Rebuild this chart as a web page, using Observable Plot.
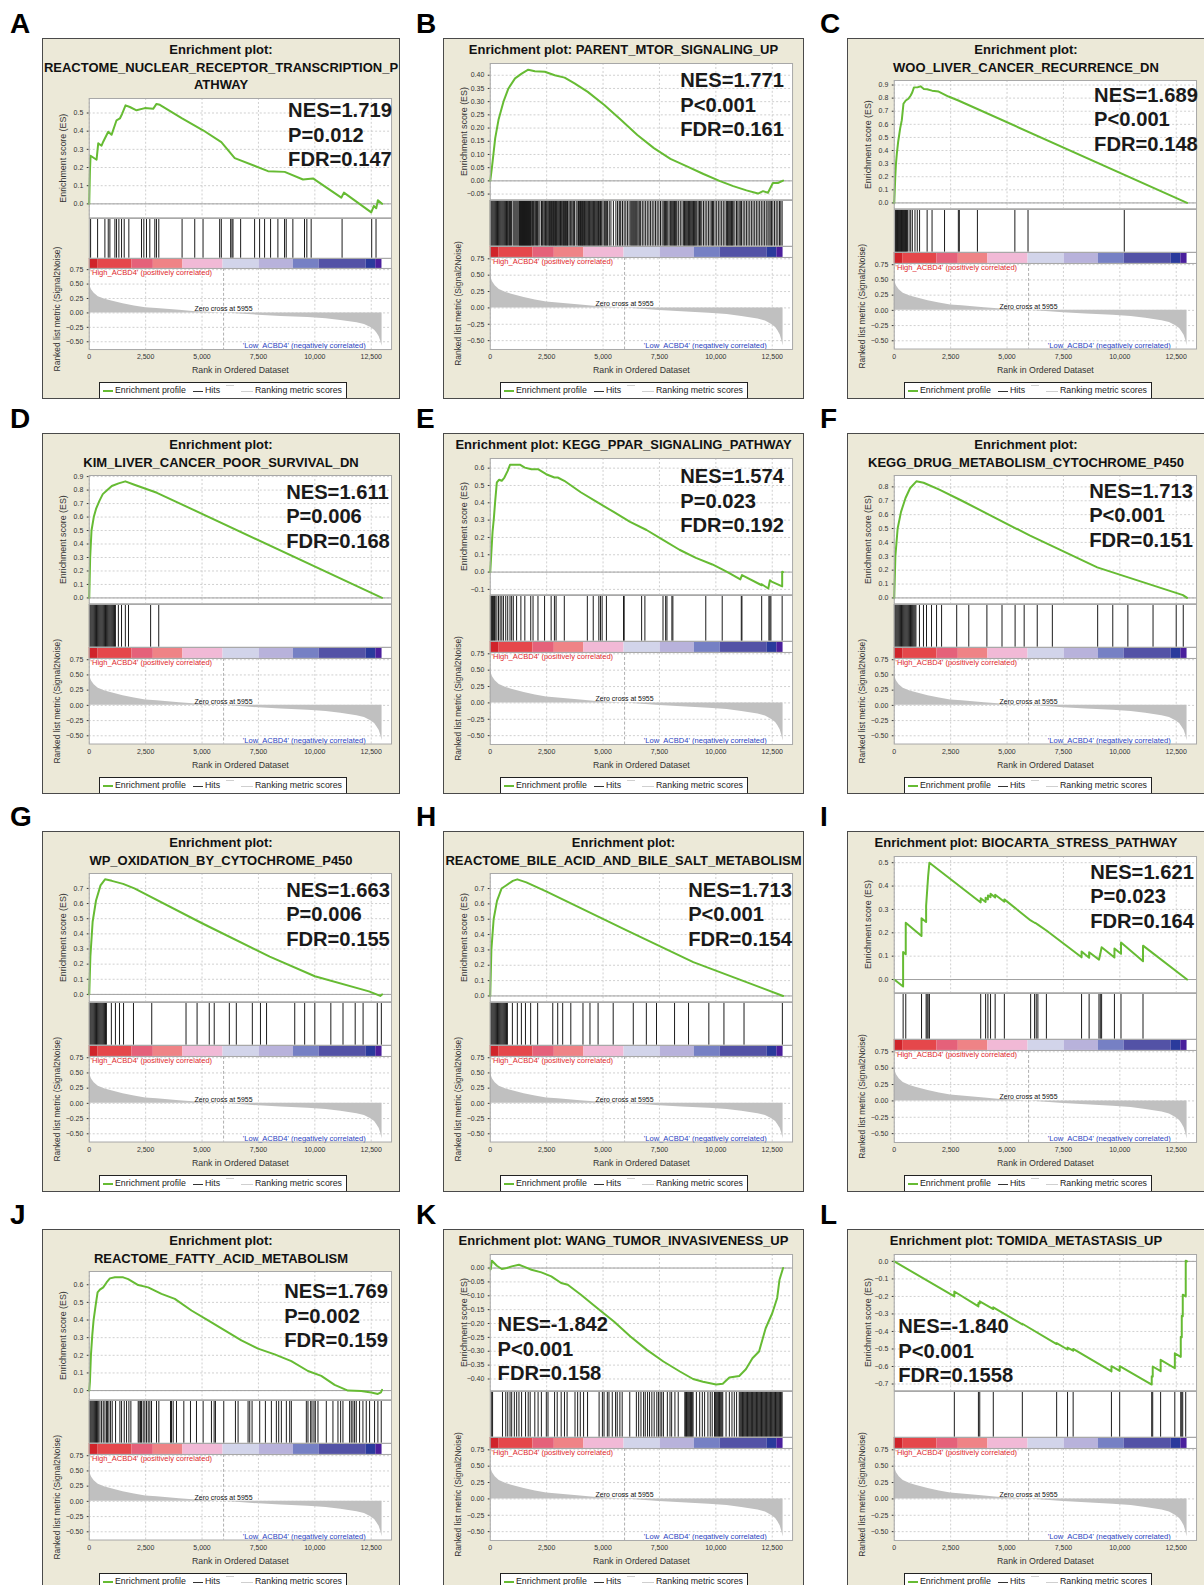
<!DOCTYPE html>
<html><head><meta charset="utf-8">
<script src="https://cdn.jsdelivr.net/npm/d3@7"></script>
<script src="https://cdn.jsdelivr.net/npm/@observablehq/plot@0.6"></script>
<style>
body{margin:0;background:#fff;}
#root{position:relative;width:1204px;height:1585px;overflow:hidden;font-family:"Liberation Sans",Arial,Helvetica,sans-serif;}
.panel{position:absolute;background:#ECE9D8;border:1px solid #4a4a4a;box-sizing:border-box;overflow:hidden;}
.letter{position:absolute;font-weight:bold;font-size:28px;line-height:28px;color:#000;}
.tline{position:absolute;left:0;right:0;text-align:center;font-weight:bold;font-size:13px;line-height:17.5px;color:#111;white-space:nowrap;}
.sub{position:absolute;left:0;}
.legend{position:absolute;width:248px;height:17px;background:#fff;border:1px solid #222;box-sizing:border-box;font-size:8.8px;color:#222;}
.legend i{position:absolute;display:block;}
.legend span{position:absolute;top:2px;line-height:11px;white-space:nowrap;}
</style></head><body><div id="root"></div>
<script>
// ---------------- data ----------------
const letters = ["A","B","C","D","E","F","G","H","I","J","K","L"];
const titleA = ["Enrichment plot:","REACTOME_NUCLEAR_RECEPTOR_TRANSCRIPTION_P","ATHWAY"];
const titleB = ["Enrichment plot: PARENT_MTOR_SIGNALING_UP"];
const titleC = ["Enrichment plot:","WOO_LIVER_CANCER_RECURRENCE_DN"];
const titleD = ["Enrichment plot:","KIM_LIVER_CANCER_POOR_SURVIVAL_DN"];
const titleE = ["Enrichment plot: KEGG_PPAR_SIGNALING_PATHWAY"];
const titleF = ["Enrichment plot:","KEGG_DRUG_METABOLISM_CYTOCHROME_P450"];
const titleG = ["Enrichment plot:","WP_OXIDATION_BY_CYTOCHROME_P450"];
const titleH = ["Enrichment plot:","REACTOME_BILE_ACID_AND_BILE_SALT_METABOLISM"];
const titleI = ["Enrichment plot: BIOCARTA_STRESS_PATHWAY"];
const titleJ = ["Enrichment plot:","REACTOME_FATTY_ACID_METABOLISM"];
const titleK = ["Enrichment plot: WANG_TUMOR_INVASIVENESS_UP"];
const titleL = ["Enrichment plot: TOMIDA_METASTASIS_UP"];

const statsA = ["NES=1.719","P=0.012","FDR=0.147"];
const statsB = ["NES=1.771","P<0.001","FDR=0.161"];
const statsC = ["NES=1.689","P<0.001","FDR=0.148"];
const statsD = ["NES=1.611","P=0.006","FDR=0.168"];
const statsE = ["NES=1.574","P=0.023","FDR=0.192"];
const statsF = ["NES=1.713","P<0.001","FDR=0.151"];
const statsG = ["NES=1.663","P=0.006","FDR=0.155"];
const statsH = ["NES=1.713","P<0.001","FDR=0.154"];
const statsI = ["NES=1.621","P=0.023","FDR=0.164"];
const statsJ = ["NES=1.769","P=0.002","FDR=0.159"];
const statsK = ["NES=-1.842","P<0.001","FDR=0.158"];
const statsL = ["NES=-1.840","P<0.001","FDR=0.1558"];

// running enrichment score [rank, ES]
const esA = [[0,0],[30,0.18],[59,0.265],[325,0.243],[398,0.333],[546,0.32],[620,0.342],[841,0.397],[989,0.38],[1210,0.46],[1358,0.47],[1461,0.496],[1609,0.542],[1800,0.533],[2096,0.515],[2465,0.527],[2834,0.523],[2981,0.55],[3129,0.545],[4115,0.47],[4676,0.43],[5044,0.405],[5855,0.34],[6449,0.252],[7925,0.18],[8663,0.176],[9475,0.134],[9917,0.14],[11172,0.034],[11290,0.062],[12500,-0.047],[12618,-0.011],[12721,-0.024],[12795,0.02],[12980,0]];
const esB = [[0,0],[73,0.049],[220,0.162],[366,0.231],[586,0.30],[806,0.35],[1099,0.388],[1392,0.406],[1685,0.421],[1978,0.415],[2418,0.413],[2858,0.40],[3297,0.391],[3737,0.369],[4323,0.337],[5056,0.287],[5788,0.231],[6521,0.174],[7254,0.124],[7987,0.083],[8719,0.055],[9452,0.026],[10185,-0.001],[10771,-0.02],[11357,-0.036],[11870,-0.048],[12090,-0.039],[12310,-0.045],[12529,-0.008],[12749,-0.008],[12980,0.001]];
const esC = [[0,0],[44,0.193],[73,0.293],[117,0.381],[175,0.469],[262,0.569],[335,0.632],[408,0.757],[510,0.782],[627,0.795],[728,0.82],[801,0.845],[874,0.882],[1020,0.882],[1166,0.89],[1311,0.87],[1457,0.868],[1675,0.857],[1967,0.85],[2404,0.812],[2841,0.782],[12980,0]];
const esD = [[0,0],[40,0.3],[100,0.5],[200,0.6],[300,0.66],[450,0.72],[600,0.77],[800,0.8],[1000,0.83],[1300,0.85],[1600,0.865],[2000,0.84],[3000,0.78],[12980,0]];
const esE = [[0,0],[44,0.1],[102,0.233],[160,0.31],[219,0.41],[292,0.518],[394,0.533],[510,0.527],[627,0.546],[773,0.584],[875,0.619],[1094,0.619],[1313,0.62],[1532,0.603],[1823,0.594],[2115,0.594],[2480,0.565],[2844,0.546],[2990,0.546],[3282,0.527],[4011,0.461],[4740,0.404],[5470,0.347],[6199,0.29],[6928,0.243],[7657,0.186],[8387,0.129],[9116,0.082],[9845,0.044],[10283,0.015],[10575,-0.004],[11085,-0.042],[11158,-0.017],[12033,-0.076],[12033,-0.07],[12325,-0.095],[12398,-0.047],[12471,-0.055],[12940,-0.083],[12940,0.002],[12980,0]];
const esF = [[0,0],[50,0.3],[150,0.5],[300,0.62],[500,0.72],[700,0.79],[980,0.84],[1300,0.83],[2000,0.78],[3000,0.7],[6000,0.45],[9000,0.22],[12800,0.02],[12980,0]];
const esG = [[0,0],[50,0.25],[150,0.48],[300,0.62],[500,0.72],[700,0.76],[1000,0.75],[1500,0.73],[2000,0.7],[5000,0.47],[8000,0.25],[10000,0.12],[12400,0.02],[12900,-0.01],[12980,0]];
const esH = [[0,0],[50,0.3],[150,0.5],[300,0.62],[500,0.7],[700,0.72],[1000,0.75],[1200,0.76],[1600,0.74],[2500,0.68],[6000,0.43],[9000,0.22],[12980,0]];
const esI = [[0,0],[393,-0.03],[393,0.118],[510,0.108],[510,0.243],[1209,0.186],[1209,0.262],[1413,0.246],[1413,0.315],[1457,0.378],[1501,0.44],[1559,0.5],[3832,0.33],[3832,0.348],[4050,0.332],[4050,0.35],[4152,0.343],[4152,0.36],[4269,0.352],[4269,0.367],[4473,0.351],[4473,0.363],[4881,0.333],[4881,0.343],[6046,0.253],[6221,0.243],[6294,0.24],[6367,0.235],[6745,0.21],[8304,0.095],[8304,0.12],[8639,0.093],[8639,0.117],[9076,0.085],[9135,0.11],[9193,0.138],[9761,0.094],[9761,0.133],[10052,0.11],[10052,0.158],[11028,0.078],[11028,0.145],[12980,0]];
const esJ = [[0,0],[30,0.05],[74,0.2],[133,0.313],[192,0.4],[280,0.48],[369,0.557],[472,0.572],[620,0.585],[767,0.613],[915,0.636],[1136,0.642],[1505,0.642],[1727,0.632],[2169,0.598],[2612,0.585],[3202,0.548],[3793,0.52],[4531,0.454],[5269,0.398],[6006,0.341],[6744,0.285],[7482,0.238],[8220,0.205],[8958,0.167],[9696,0.111],[10286,0.083],[10877,0.032],[11467,0.0],[12057,-0.002],[12500,-0.011],[12795,-0.019],[12930,-0.01],[12980,0.004]];
const esK = [[0,0],[20,-0.005],[73,0.0265],[292,0.0084],[512,-0.0036],[731,0],[950,0.006],[1272,0.012],[1462,0.006],[1827,-0.006],[2266,-0.0157],[2705,-0.03],[3143,-0.054],[3436,-0.06],[4020,-0.096],[4751,-0.145],[5482,-0.193],[6213,-0.247],[6944,-0.295],[7675,-0.337],[8406,-0.373],[8991,-0.40],[9430,-0.41],[10015,-0.42],[10307,-0.417],[10600,-0.395],[11038,-0.389],[11330,-0.365],[11623,-0.325],[11915,-0.301],[12208,-0.217],[12500,-0.163],[12719,-0.108],[12822,-0.042],[12980,0]];
const esL = [[0,0],[2663,-0.2],[2663,-0.172],[3731,-0.257],[3731,-0.237],[3790,-0.24],[3790,-0.228],[4390,-0.272],[4390,-0.262],[5678,-0.36],[5678,-0.356],[7199,-0.472],[7199,-0.467],[7682,-0.503],[7682,-0.492],[7931,-0.51],[7931,-0.5],[9628,-0.628],[9628,-0.598],[9994,-0.625],[9994,-0.598],[11414,-0.703],[11414,-0.655],[11458,-0.658],[11458,-0.6],[11809,-0.627],[11809,-0.562],[12438,-0.61],[12438,-0.525],[12701,-0.545],[12701,-0.43],[12745,-0.433],[12745,-0.31],[12789,-0.313],[12789,-0.19],[12921,-0.2],[12921,0.004],[12980,0]];

// gene-set hit ranks
const hitsA = [59,369,693,841,914,1136,1209,1313,1431,1549,1755,2316,2419,2537,2684,2906,2979,3083,4115,4676,5044,5782,5855,6268,6327,6372,6711,7330,7552,7773,8038,8363,8658,8732,9027,9543,9646,9838,11209,12522,12714];
const hitsB = [0,40,80,120,160,200,240,280,320,360,400,440,480,520,560,600,640,680,720,760,800,850,894,938,1011,1055,1099,1143,1187,1231,1275,1297,1319,1341,1363,1385,1407,1429,1451,1473,1495,1517,1539,1561,1583,1605,1627,1649,1671,1693,1715,1737,1759,1781,1803,1840,1876,1912,1949,2000,2052,2090,2125,2198,2271,2308,2345,2396,2447,2476,2506,2550,2594,2616,2638,2675,2711,2740,2770,2799,2828,2858,2887,2909,2931,2968,3004,3040,3077,3114,3151,3187,3224,3253,3282,3311,3341,3370,3400,3422,3444,3500,3561,3612,3664,3700,3737,3810,3883,3912,3942,3971,4000,4030,4059,4081,4103,4140,4176,4213,4250,4286,4323,4360,4396,4433,4470,4506,4543,4580,4616,4652,4689,4726,4763,4800,4836,4887,4938,4997,5056,5092,5129,5165,5202,5275,5349,5459,5569,5642,5715,5752,5788,5862,5935,6008,6081,6155,6228,6272,6316,6360,6404,6448,6492,6543,6594,6631,6668,6741,6814,6888,6961,7034,7107,7180,7254,7327,7400,7474,7547,7620,7693,7730,7766,7818,7869,7928,7986,8023,8059,8096,8133,8170,8206,8243,8279,8352,8426,8500,8573,8610,8646,8683,8719,8756,8792,8829,8866,8903,8939,8976,9012,9049,9085,9122,9159,9218,9276,9327,9378,9452,9525,9599,9672,9745,9818,9855,9892,9965,10038,10112,10185,10258,10331,10405,10478,10515,10551,10588,10624,10661,10697,10734,10771,10844,10917,10976,11034,11086,11137,11211,11284,11357,11430,11504,11577,11650,11723,11797,11870,11943,12016,12090,12163,12236,12309,12360,12412,12470,12529,12603,12676,12749,12822,12880,12939];
const hitsC = [44,70,95,120,145,170,195,220,245,270,295,320,345,370,395,420,445,470,495,520,545,583,656,728,801,918,1020,1122,1457,1675,2229,2841,2885,3686,5347,5930,10198];
const hitsD = [5,40,80,120,160,200,240,280,320,360,400,440,480,520,560,600,640,680,720,760,800,840,880,920,960,1000,1040,1080,1120,1160,1290,1430,1600,1740,2720,3080];
const hitsE = [5,44,73,102,146,190,219,292,365,438,511,583,686,773,875,948,1021,1167,1357,1532,1794,1896,2115,2407,2698,2844,2917,3282,4303,4565,4813,4886,4959,5149,5907,5937,6710,6855,7658,7775,7833,8052,8096,9554,10283,11129,11158,12033,12354,12398,12442,12940];
const hitsF = [5,40,80,120,160,200,240,280,320,360,400,440,480,520,560,600,640,680,720,760,800,840,880,920,960,1116,1295,1429,1652,1875,2098,2768,3304,4107,4777,5357,5759,6339,7009,9018,9688,10357,11473,12500,12813];
const hitsG = [5,40,80,120,160,200,240,280,320,360,400,440,480,520,560,600,640,680,720,760,980,1160,1340,1520,1960,2770,4290,4780,5320,5540,6210,6520,7230,7590,7860,9110,9550,10000,10710,11250,11790,12140,12770,12950];
const hitsH = [5,40,80,120,160,200,240,280,320,360,400,440,480,520,560,600,640,680,720,760,980,1200,1380,1560,1790,2100,2770,2990,3210,3570,4110,4420,4780,5450,6340,6920,7370,8170,8790,9690,10360,11250,12950];
const hitsI = [393,510,1209,1413,1457,1501,1559,3832,4050,4152,4269,4473,4881,6046,6221,6294,6367,6745,8304,8639,9076,9135,9193,9761,10052,11028];
const hitsJ = [5,40,80,120,160,200,240,280,320,360,400,472,546,620,694,767,812,871,945,1018,1166,1358,1432,1550,1653,1756,1845,2170,2214,2273,2317,2391,2465,2539,2613,2686,2760,2982,3085,3601,3646,3720,3867,4192,4487,4753,5048,5417,5535,5594,5963,6480,6598,7041,7115,7218,7557,7808,8074,8295,8399,8517,8738,8886,8959,9624,9697,9815,9874,9963,10022,10140,10509,10804,11026,11144,11247,11542,11616,11690,11764,11838,11985,12133,12281,12428,12649,12797,12945];
const hitsK = [44,102,541,687,775,877,950,1067,1170,1272,1389,1564,1681,1769,1974,2120,2266,2485,2559,2851,2968,3143,3290,3406,3757,3874,3991,4137,4313,4825,4971,5044,5190,5263,5409,5556,5629,5746,5848,6184,6477,6579,6681,6798,6871,6974,7061,7164,7266,7383,7456,7529,7602,7676,7851,7968,8041,8187,8333,8626,8662,8699,8735,8772,8808,8845,8881,8918,8955,8991,9138,9284,9401,9503,9649,9752,9839,9942,9978,10015,10051,10088,10124,10161,10197,10234,10270,10307,10453,10600,10716,10819,10921,11038,11075,11111,11148,11184,11221,11257,11294,11331,11367,11404,11440,11477,11513,11550,11586,11623,11659,11696,11732,11769,11805,11842,11878,11915,11951,11988,12025,12062,12098,12135,12171,12208,12244,12281,12317,12354,12390,12427,12463,12500,12536,12573,12609,12646,12682,12719,12755,12792,12829,12866,12902,12939];
const hitsL = [2663,3731,3790,4390,5678,7199,7682,7931,9628,9994,11414,11458,11809,12438,12701,12745,12789,12921];

// ranked list metric (Signal2Noise), shared by all panels
const metricRank  = [0,30,100,220,400,700,950,1500,2000,2500,3000,4000,4600,5955,7500,8500,9700,10500,11150,11870,12200,12460,12650,12750,12850,12930,12980];
const metricValue = [0.56,0.47,0.40,0.34,0.28,0.235,0.21,0.16,0.12,0.09,0.075,0.045,0.025,0,-0.04,-0.06,-0.08,-0.1,-0.13,-0.17,-0.2,-0.25,-0.3,-0.35,-0.41,-0.5,-0.58];
const zeroCross = 5955;

// heat bar segments (rank ranges)
const barStart = [0,393,1894,2840,4152,5930,7532,9047,10198,12281,12704];
const barEnd   = [393,1894,2840,4152,5930,7532,9047,10198,12281,12704,12980];

const xTickValues = [0,2500,5000,7500,10000,12500];
const metricTickValues = [0.75,0.5,0.25,0,-0.25,-0.5];

// ---------------- styles / layout ----------------
const barShade = ["#d0232a","#e5474b","#e5617a","#ef8386","#f1b9d6","#d2d4ea","#b8b2db","#7680c4","#5352a6","#2a3a9c","#4a1f9c"];
const colLeft = [42,443,847], colWidth = [358,361,358], rowTop = [38,433,831,1229];
const letterX = [10,416,820];
const PANEL_H = 361, PL = 46, PW = 304, XMAX = 13400;
const statOffset = [[200,1.3],[191,6.6],[201,4],[198,6],[191,7.3],[196,5],[198,6],[199,6],[197,5],[196,9.7],[7.4,59.6],[4,61.7]];
const esStep = [0.1,0.05,0.1,0.1,0.1,0.1,0.1,0.1,0.1,0.1,0.05,0.1];
const FONT = '"Liberation Sans", Arial, Helvetica, sans-serif';
const baseStyle = {background:"transparent", overflow:"visible", fontFamily:FONT, fontSize:"7px", color:"#333"};
const gridStyle = {stroke:"#c4c4c4", strokeOpacity:1, strokeDasharray:"2,2", strokeWidth:0.8};
const GREEN = "#66bb33";

const panels = [
  {title:titleA, es:esA, hits:hitsA, stats:statsA},
  {title:titleB, es:esB, hits:hitsB, stats:statsB},
  {title:titleC, es:esC, hits:hitsC, stats:statsC},
  {title:titleD, es:esD, hits:hitsD, stats:statsD},
  {title:titleE, es:esE, hits:hitsE, stats:statsE},
  {title:titleF, es:esF, hits:hitsF, stats:statsF},
  {title:titleG, es:esG, hits:hitsG, stats:statsG},
  {title:titleH, es:esH, hits:hitsH, stats:statsH},
  {title:titleI, es:esI, hits:hitsI, stats:statsI},
  {title:titleJ, es:esJ, hits:hitsJ, stats:statsJ},
  {title:titleK, es:esK, hits:hitsK, stats:statsK},
  {title:titleL, es:esL, hits:hitsL, stats:statsL}
];
const metricData = metricRank.map((r,i)=>({r, v:metricValue[i]}));
const barData = barStart.map((s,i)=>({s, e:barEnd[i], c:barShade[i]}));

const root = document.getElementById("root");
function place(el, parent, top){ el.classList.add("sub"); el.style.top = top+"px"; parent.appendChild(el); }

panels.forEach((p, idx) => {
  const col = idx % 3, row = Math.floor(idx/3);
  const W = colWidth[col], MR = W - PL - PW;
  const pd = document.createElement("div");
  pd.className = "panel";
  Object.assign(pd.style, {left:colLeft[col]+"px", top:rowTop[row]+"px", width:W+"px", height:PANEL_H+"px"});
  root.appendChild(pd);

  const lt = document.createElement("div");
  lt.className = "letter"; lt.textContent = letters[idx];
  Object.assign(lt.style, {left:letterX[col]+"px", top:(rowTop[row]-28)+"px"});
  root.appendChild(lt);

  p.title.forEach((t,i)=>{
    const d = document.createElement("div"); d.className="tline"; d.textContent=t;
    d.style.top = (2.25 + 17.5*i)+"px"; pd.appendChild(d);
  });

  const n = p.title.length;
  const esTop = 6 + 17.5*n;
  const H = 310 - esTop;
  const esH = Math.round(0.478*H), hitsH = Math.round(0.161*H), barH = Math.round(0.04*H);
  const metH = H - esH - hitsH - barH;

  // ES plot
  const vals = p.es.map(d=>d[1]);
  const mn = Math.min(0, d3.min(vals)), mx = Math.max(0, d3.max(vals));
  const rg = mx - mn;
  const dom = [mn - 0.05*rg, mx + 0.05*rg];
  const s = esStep[idx];
  const yt = [];
  for (let k = Math.ceil(dom[0]/s - 1e-6); k*s <= dom[1] + 1e-9; k++) yt.push(Math.round(k*s*100)/100);
  const so = statOffset[idx];
  const esPlot = Plot.plot({
    width: W, height: esH, marginLeft: PL, marginRight: MR, marginTop: 0, marginBottom: 0,
    style: baseStyle,
    x: {domain:[0,XMAX], axis:null},
    y: {domain: dom, ticks: yt, tickFormat: d3.format(s < 0.1 ? ".2f" : ".1f"), tickSize: 2, tickPadding: 4, label: null},
    marks: [
      Plot.frame({fill:"white"}),
      Plot.gridX(xTickValues, gridStyle),
      Plot.gridY(yt, gridStyle),
      Plot.ruleY([0], {stroke:"#a0a0a0", strokeWidth:1}),
      Plot.line(p.es, {x:d=>d[0], y:d=>d[1], stroke:GREEN, strokeWidth:2}),
      Plot.frame({stroke:"#a8a8a8"}),
      Plot.text([p.stats.join("\n")], {frameAnchor:"top-left", dx:so[0], dy:so[1], lineAnchor:"top", textAnchor:"start",
        fontSize:20.3, fontWeight:"bold", lineHeight:1.21, fill:"#1a1a1a"}),
      Plot.text(["Enrichment score (ES)"], {frameAnchor:"left", rotate:-90, dx:-26, textAnchor:"middle", lineAnchor:"middle", fontSize:8.9, fill:"#333"})
    ]
  });
  place(esPlot, pd, esTop);

  // hits
  const hitsPlot = Plot.plot({
    width: W, height: hitsH, marginLeft: PL, marginRight: MR, marginTop: 0, marginBottom: 0,
    style: baseStyle,
    x: {domain:[0,XMAX], axis:null}, y: {domain:[0,1], axis:null},
    marks: [
      Plot.frame({fill:"white"}),
      Plot.ruleX(p.hits, {x:d=>d, stroke:"#1a1a1a", strokeWidth:1}),
      Plot.frame({stroke:"#a8a8a8"})
    ]
  });
  place(hitsPlot, pd, esTop + esH);

  // heat bar
  const barPlot = Plot.plot({
    width: W, height: barH, marginLeft: PL, marginRight: MR, marginTop: 0, marginBottom: 0,
    style: baseStyle,
    x: {domain:[0,XMAX], axis:null}, y: {domain:[0,1], axis:null}, color: {type:"identity"},
    marks: [
      Plot.frame({fill:"white"}),
      Plot.rect(barData, {x1:"s", x2:"e", y1:0, y2:1, fill:"c"}),
      Plot.frame({stroke:"#a8a8a8"})
    ]
  });
  place(barPlot, pd, esTop + esH + hitsH);

  // ranked list metric
  const metPlot = Plot.plot({
    width: W, height: metH + 30, marginLeft: PL, marginRight: MR, marginTop: 0, marginBottom: 30,
    style: baseStyle,
    x: {domain:[0,XMAX], ticks: xTickValues, tickFormat: d3.format(","), tickSize: 0, tickPadding: 5, label: null},
    y: {domain:[-0.635,0.77], ticks: metricTickValues, tickFormat: d3.format(".2f"), tickSize: 2, tickPadding: 4, label: null},
    marks: [
      Plot.frame({fill:"white"}),
      Plot.gridX(xTickValues, gridStyle),
      Plot.gridY(metricTickValues, gridStyle),
      Plot.areaY(metricData, {x:"r", y:"v", fill:"#c0c0c0"}),
      Plot.ruleX([zeroCross], {stroke:"#9a9a9a", strokeDasharray:"3,2", strokeWidth:0.8}),
      Plot.text([{r:zeroCross, v:0}], {x:"r", y:"v", text:()=>"Zero cross at " + zeroCross, dy:-4, fontSize:7, fill:"#111"}),
      Plot.text(["'High_ACBD4' (positively correlated)"], {frameAnchor:"top-left", dx:1.3, dy:1, lineAnchor:"top", textAnchor:"start", fontSize:7.6, fill:"#e0282c"}),
      Plot.text(["'Low_ACBD4' (negatively correlated)"], {frameAnchor:"bottom-right", dx:-26, dy:-1.5, lineAnchor:"bottom", textAnchor:"end", fontSize:7.6, fill:"#2a42c0"}),
      Plot.frame({stroke:"#a8a8a8"}),
      Plot.text(["Rank in Ordered Dataset"], {frameAnchor:"bottom", dy:21, lineAnchor:"middle", fontSize:8.8, fill:"#333"}),
      Plot.text(["Ranked list metric (Signal2Noise)"], {frameAnchor:"left", rotate:-90, dx:-32, textAnchor:"middle", lineAnchor:"middle", fontSize:8.5, fill:"#333"})
    ]
  });
  place(metPlot, pd, esTop + esH + hitsH + barH);

  // legend
  const lg = document.createElement("div");
  lg.className = "legend";
  Object.assign(lg.style, {left:"56px", top:"343px"});
  lg.innerHTML =
    '<i style="left:3px;top:7px;width:10px;height:2px;background:'+GREEN+'"></i>' +
    '<span style="left:15px">Enrichment profile</span>' +
    '<i style="left:93px;top:7.5px;width:10px;height:1px;background:#333"></i>' +
    '<span style="left:105px">Hits</span>' +
    '<i style="left:126px;top:2px;width:8px;height:1px;background:#d0d0d0"></i>' +
    '<i style="left:141px;top:7.5px;width:12px;height:1px;background:#cfcfcf"></i>' +
    '<span style="left:155px">Ranking metric scores</span>';
  pd.appendChild(lg);
});
</script></body></html>
